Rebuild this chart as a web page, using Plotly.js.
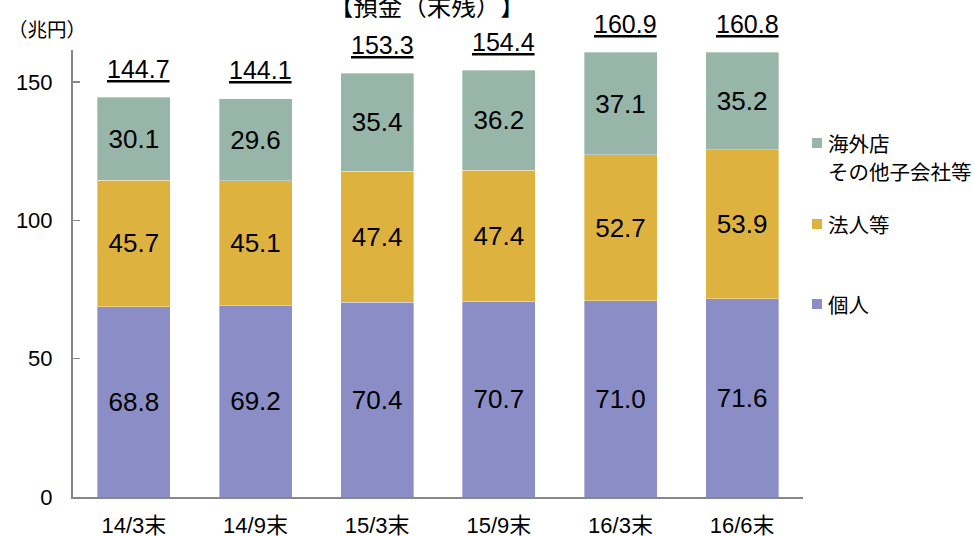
<!DOCTYPE html>
<html>
<head>
<meta charset="utf-8">
<script src="https://cdn.plot.ly/plotly-3.0.1.min.js"></script>
<style>html,body{margin:0;padding:0;background:#fff;}#chart{width:974px;height:536px;}
#chart text{text-spacing-trim: space-all;}</style>
</head>
<body>
<div id="chart"></div>
<script>
const categories = ['14/3末', '14/9末', '15/3末', '15/9末', '16/3末', '16/6末'];
const kojin = [68.8, 69.2, 70.4, 70.7, 71.0, 71.6];
const hojin = [45.7, 45.1, 47.4, 47.4, 52.7, 53.9];
const kaigai = [30.1, 29.6, 35.4, 36.2, 37.1, 35.2];
const totals = [144.7, 144.1, 153.3, 154.4, 160.9, 160.8];
const seriesNames = ['個人', '法人等', '海外店その他子会社等'];
const legendLines = [['個人'], ['法人等'], ['海外店', 'その他子会社等']];
const seriesColors = ['#8B8DC6', '#DEB23F', '#97B5A8'];
const yTicks = [0, 50, 100, 150];

const FONT = 'Liberation Sans, Arial, Noto Sans CJK JP, sans-serif';
const JFONT = 'Noto Sans CJK JP, sans-serif';
const seriesValues = [kojin, hojin, kaigai];

const traces = seriesValues.map((vals, i) => ({
  type: 'bar',
  x: categories,
  y: vals,
  name: seriesNames[i],
  marker: {color: seriesColors[i], line: {color: 'rgba(255,255,255,0.6)', width: 0.6}},
  texttemplate: '%{y:.1f}',
  textposition: 'inside',
  insidetextanchor: 'middle',
  textangle: 0,
  constraintext: 'none',
  textfont: {family: FONT, size: 26, color: '#000'},
  hoverinfo: 'none',
  showlegend: false
}));

const L = 73, R = 803, T = 50, B = 497;
const px2x = p => (p - L) / (R - L);
const px2y = p => (B - p) / (B - T);

const annotations = totals.map((t, i) => ({
  x: categories[i], y: t, xref: 'x', yref: 'y',
  text: '<u>' + t.toFixed(1) + '</u>',
  showarrow: false, xanchor: 'center', yanchor: 'middle',
  xshift: 5, yshift: 28,
  font: {family: FONT, size: 25, color: '#000'}
}));

annotations.push({
  xref: 'paper', yref: 'paper', x: px2x(427), y: 1, yshift: 45,
  text: '【預金（末残）】', showarrow: false, xanchor: 'center', yanchor: 'middle',
  font: {family: JFONT, size: 24.5, color: '#000'}
});
annotations.push({
  xref: 'paper', yref: 'paper', x: px2x(47), y: px2y(29),
  text: '（兆円）', showarrow: false, xanchor: 'center', yanchor: 'middle',
  font: {family: JFONT, size: 19.5, color: '#000'}
});

const legendY = [304, 224, 143];
const lineStep = 28;
const shapes = [];
seriesNames.forEach((n, i) => {
  shapes.push({
    type: 'rect', xref: 'paper', yref: 'paper',
    xsizemode: 'pixel', ysizemode: 'pixel',
    xanchor: px2x(817), yanchor: px2y(legendY[i]),
    x0: -5, x1: 5, y0: -5, y1: 5,
    fillcolor: seriesColors[i], line: {width: 0}
  });
  legendLines[i].forEach((line, j) => {
    annotations.push({
      xref: 'paper', yref: 'paper', x: px2x(826), y: px2y(legendY[i] + j * lineStep),
      text: line, showarrow: false, xanchor: 'left', yanchor: 'middle', align: 'left',
      font: {family: JFONT, size: 20.5, color: '#000'}
    });
  });
});

const layout = {
  width: 974, height: 536,
  margin: {l: L, r: 974 - R, t: T, b: 536 - B, pad: 0},
  paper_bgcolor: '#fff', plot_bgcolor: '#fff',
  barmode: 'stack', bargap: 0.4,
  showlegend: false,
  font: {family: FONT, color: '#000'},
  xaxis: {
    type: 'category', showline: true, linecolor: '#888', linewidth: 2,
    ticks: '', showgrid: false, zeroline: false,
    tickfont: {family: FONT, size: 22, color: '#000'},
    ticklabelstandoff: 8
  },
  yaxis: {
    range: [0, 161.6], tickvals: yTicks, ticktext: yTicks.map(String),
    showline: true, linecolor: '#888', linewidth: 2,
    ticks: 'inside', ticklen: 7, tickcolor: '#888', tickwidth: 1.5,
    showgrid: false, zeroline: false,
    tickfont: {family: FONT, size: 22, color: '#000'},
    ticklabelstandoff: 14
  },
  annotations: annotations,
  shapes: shapes
};

Plotly.newPlot('chart', traces, layout, {staticPlot: true, displayModeBar: false});
</script>
</body>
</html>
